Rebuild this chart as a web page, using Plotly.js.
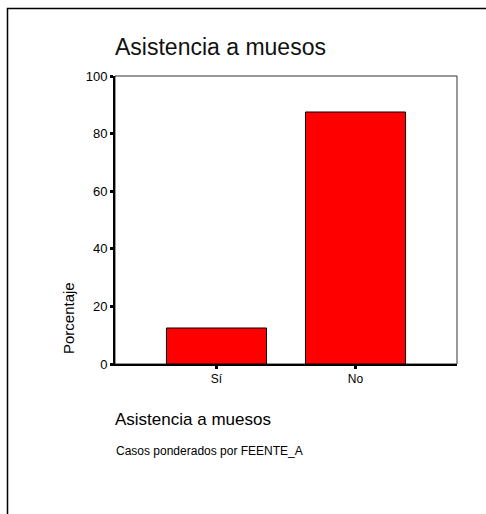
<!DOCTYPE html>
<html><head><meta charset="utf-8">
<script src="https://cdn.plot.ly/plotly-3.0.1.min.js"></script>
<style>html,body{margin:0;padding:0;background:#fff}#c{width:486px;height:514px}</style>
</head><body><div id="c"></div>
<script>
const categories = ["Sí", "No"];
const porcentaje = [12.5, 87.5];
const yTicks = [0, 20, 40, 60, 80, 100];

const W = 486, H = 514;
const L = 115, R = 29, T = 76, B = 150;
const pw = W - L - R, ph = H - T - B;
const px = v => (v - L) / pw;
const py = v => (H - B - v) / ph;
const F = "Liberation Sans, Arial, sans-serif";

Plotly.newPlot("c", [{
  type: "bar",
  x: [0, 1],
  y: porcentaje,
  width: 0.72,
  marker: {color: "#ff0000", line: {color: "#000", width: 1}},
  hoverinfo: "none"
}], {
  width: W, height: H,
  margin: {l: L, r: R, t: T, b: B, pad: 0},
  paper_bgcolor: "#fff", plot_bgcolor: "#fff",
  showlegend: false,
  font: {family: F, color: "#000"},
  title: {text: "Asistencia a muesos", font: {family: F, size: 23, color: "#111"},
          xref: "paper", x: px(115), xanchor: "left",
          yref: "container", y: 1 - 47 / H, yanchor: "middle"},
  xaxis: {range: [-0.73, 1.73], tickvals: [0, 1], ticktext: categories,
          showgrid: false, zeroline: false, showline: true, linecolor: "#000", linewidth: 2,
          ticks: "outside", ticklen: 3, tickwidth: 3, tickcolor: "#000",
          tickfont: {family: F, size: 12, color: "#000"}, fixedrange: true},
  yaxis: {range: [0, 100], tickvals: yTicks,
          showgrid: false, zeroline: false, showline: true, linecolor: "#000", linewidth: 2,
          ticks: "outside", ticklen: 3, tickwidth: 3, tickcolor: "#000",
          tickfont: {family: F, size: 13, color: "#000"}, fixedrange: true},
  shapes: [
    {type: "rect", xref: "paper", yref: "paper", x0: 0, x1: 1, y0: 0, y1: 1,
     line: {color: "#333", width: 1}, layer: "below"},
    {type: "rect", xref: "paper", yref: "paper", x0: px(7.5), x1: px(500), y0: py(530), y1: py(8.5),
     line: {color: "#000", width: 1.5}}
  ],
  annotations: [
    {text: "Porcentaje", xref: "paper", yref: "paper", x: px(68), y: py(318),
     textangle: -90, showarrow: false, font: {family: F, size: 15, color: "#000"},
     xanchor: "center", yanchor: "middle"},
    {text: "Asistencia a muesos", xref: "paper", yref: "paper", x: px(113), y: py(419),
     showarrow: false, font: {family: F, size: 17, color: "#000"},
     xanchor: "left", yanchor: "middle"},
    {text: "Casos ponderados por FEENTE_A", xref: "paper", yref: "paper", x: px(114), y: py(451),
     showarrow: false, font: {family: F, size: 12, color: "#000"},
     xanchor: "left", yanchor: "middle"}
  ]
}, {staticPlot: true});
</script></body></html>
